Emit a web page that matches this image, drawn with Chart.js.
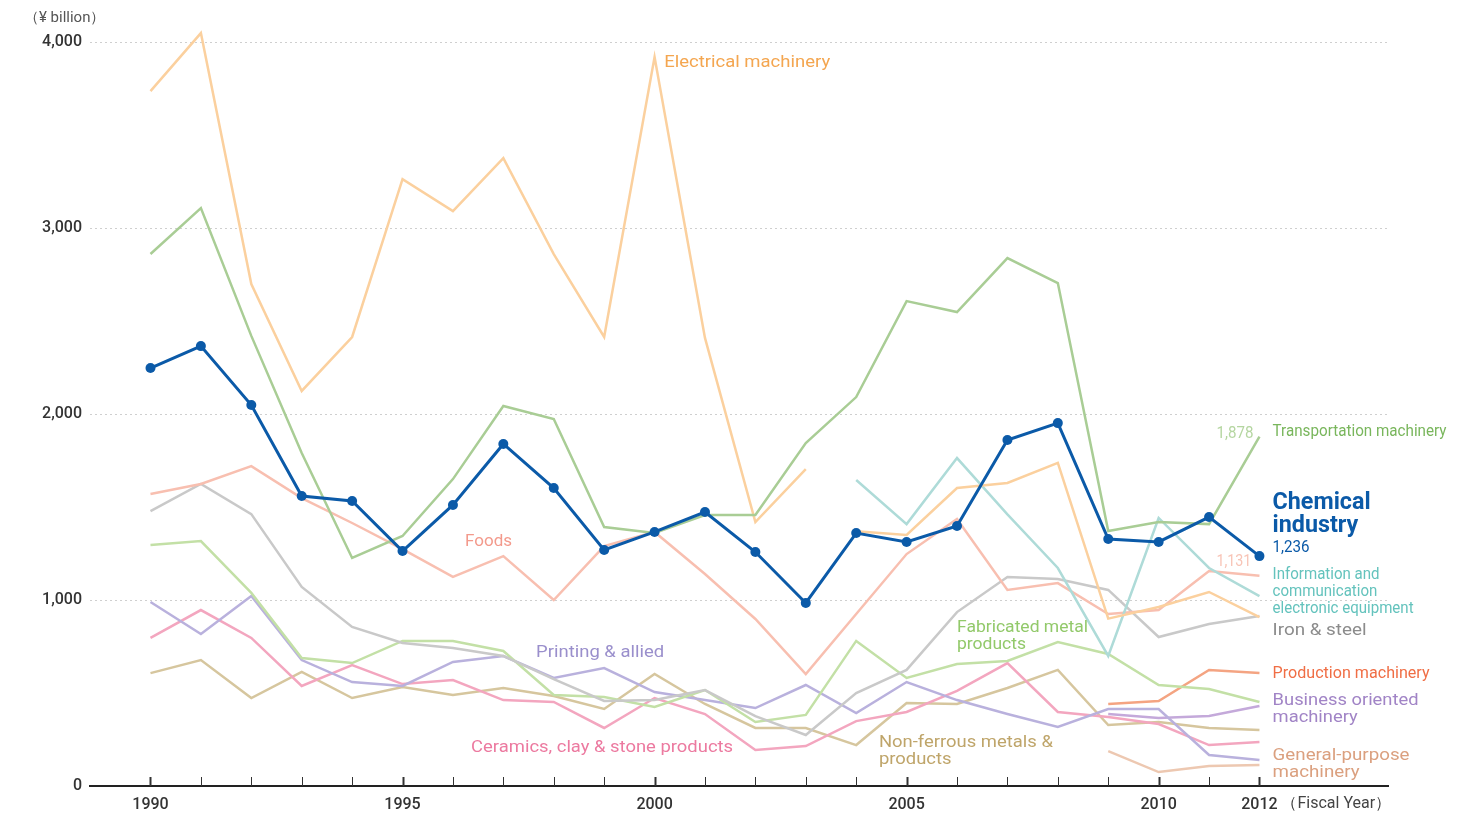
<!DOCTYPE html>
<html>
<head>
<meta charset="utf-8">
<script src="https://cdn.jsdelivr.net/npm/chart.js@4.4.1/dist/chart.umd.min.js"></script>
<style>
  html, body { margin: 0; padding: 0; background: #fff; }
  #wrap { width: 1465px; height: 814px; position: relative; }
</style>
</head>
<body>
<div id="wrap"><canvas id="capexChart"></canvas></div>
<script>
// fiscal years 1990 - 2012
const years = [1990, 1991, 1992, 1993, 1994, 1995, 1996, 1997, 1998, 1999, 2000, 2001,
  2002, 2003, 2004, 2005, 2006, 2007, 2008, 2009, 2010, 2011, 2012];
const tickYears = [1990, 1995, 2000, 2005, 2010, 2012];
const yTicks = [0, 1000, 2000, 3000, 4000];

// capital investment, ¥ billion
const chemical = [2247, 2365, 2048, 1559, 1532, 1263, 1511, 1839, 1602, 1269, 1366, 1473,
  1258, 984, 1360, 1312, 1398, 1860, 1951, 1328, 1312, 1446, 1236];
const transport = [2860, 3107, 2420, 1790, 1226, 1344, 1650, 2043, 1973, 1392, 1360, 1457,
  1457, 1844, 2091, 2607, 2548, 2838, 2704, 1371, 1419, 1408, 1878];
const electricalOld = [3736, 4048, 2699, 2124, 2414, 3263, 3091, 3376, 2860, 2414, 3919, 2409,
  1419, 1704, null, null, null, null, null, null, null, null, null];
const electricalNew = [null, null, null, null, null, null, null, null, null, null, null, null,
  null, null, 1370, 1350, 1602, 1629, 1737, 900, 962, 1043, 908];
const infoComm = [null, null, null, null, null, null, null, null, null, null, null, null,
  null, null, 1645, 1408, 1763, 1460, 1172, 699, 1441, 1172, 1021];
const foods = [1570, 1624, 1720, 1548, 1414, 1274, 1124, 1236, 1000, 1290, 1366, 1140,
  898, 602, 925, 1247, 1435, 1054, 1091, 925, 946, 1156, 1131];
const ironSteel = [1478, 1624, 1462, 1070, 855, 769, 742, 699, 575, 457, 462, 516,
  376, 274, 500, 624, 935, 1124, 1113, 1054, 801, 871, 914];
const fabricated = [1296, 1317, 1038, 688, 661, 780, 780, 726, 489, 478, 425, 516,
  344, 382, 780, 581, 656, 672, 774, 710, 543, 521, 452];
const printing = [989, 817, 1021, 677, 559, 538, 667, 699, 581, 634, 505, 462,
  419, 543, 392, 559, 462, 387, 317, 414, 414, 167, 140];
const business = [null, null, null, null, null, null, null, null, null, null, null, null,
  null, null, null, null, null, null, null, 387, 366, 376, 430];
const ceramics = [796, 946, 796, 538, 650, 548, 570, 462, 452, 312, 473, 387,
  194, 215, 349, 398, 511, 661, 398, 371, 333, 220, 237];
const nonFerrous = [607, 677, 473, 613, 473, 532, 489, 527, 484, 414, 602, 441,
  312, 312, 220, 446, 441, 527, 624, 328, 344, 312, 301];
const production = [null, null, null, null, null, null, null, null, null, null, null, null,
  null, null, null, null, null, null, null, 441, 457, 624, 607];
const generalPurpose = [null, null, null, null, null, null, null, null, null, null, null, null,
  null, null, null, null, null, null, null, 188, 75, 108, 113];

const toPoints = vals => years.map((yr, i) => ({ x: yr, y: vals[i] }));

function line(label, vals, color, width) {
  return {
    label: label,
    data: toPoints(vals),
    borderColor: color,
    borderWidth: width || 2.5,
    pointRadius: 0,
    fill: false,
    tension: 0,
    spanGaps: false,
    clip: false,
  };
}

const BLUE = '#0b5aa8';
const FONT = 'Roboto, "DejaVu Sans", sans-serif';

// text labels, anchored in data units (year, value)
const notes = [
  { lines: ['Electrical machinery'], year: 2000.19, value: 3887, color: '#f4a650', w: 166 },
  { lines: ['Foods'], year: 1996.24, value: 1312, color: '#f39a8c', w: 47 },
  { lines: ['Printing & allied'], year: 1997.65, value: 715, color: '#9a8fcc', w: 128 },
  { lines: ['Ceramics, clay & stone products'], year: 1996.36, value: 204, color: '#ec7aa0', w: 262 },
  { lines: ['Fabricated metal', 'products'], year: 2006.0, value: 849, color: '#92c96a', w: 131 },
  { lines: ['Non-ferrous metals &', 'products'], year: 2004.45, value: 231, color: '#bfa56a', w: 174 },
  { lines: ['Transportation machinery'], year: 2012.26, value: 1903, color: '#79b65c', w: 174 },
  { lines: ['1,878'], year: 2011.88, value: 1892, color: '#b5d6a1', w: 37, align: 'right' },
  { lines: ['Chemical', 'industry'], year: 2012.26, value: 1521, color: BLUE, w: 98, bold: true, size: 24, lh: 23 },
  { lines: ['1,236'], year: 2012.26, value: 1280, color: BLUE, w: 37 },
  { lines: ['1,131'], year: 2011.84, value: 1204, color: '#f8c4b6', w: 35, align: 'right' },
  { lines: ['Information and', 'communication', 'electronic equipment'], year: 2012.26, value: 1134, color: '#64c3bd', w: 107 },
  { lines: ['Iron & steel'], year: 2012.26, value: 833, color: '#8c8c8c', w: 94 },
  { lines: ['Production machinery'], year: 2012.26, value: 602, color: '#f06e45', w: 157 },
  { lines: ['Business oriented', 'machinery'], year: 2012.26, value: 457, color: '#a184c6', w: 146 },
  { lines: ['General-purpose', 'machinery'], year: 2012.26, value: 161, color: '#dba07f', w: 137 },
];

const annotate = {
  id: 'annotate',
  afterDatasetsDraw(chart) {
    const { ctx, scales: { x, y } } = chart;
    ctx.save();
    ctx.textBaseline = 'middle';
    notes.forEach(n => {
      const size = n.size || 17;
      ctx.font = (n.bold ? 'bold ' : '') + size + 'px ' + FONT;
      const squeeze = n.w / ctx.measureText(n.lines[0]).width;
      const px = x.getPixelForValue(n.year);
      const py = y.getPixelForValue(n.value);
      ctx.fillStyle = n.color;
      ctx.textAlign = n.align || 'left';
      n.lines.forEach((t, i) => {
        ctx.save();
        ctx.translate(px, py + i * (n.lh || 17));
        ctx.scale(squeeze, 1);
        ctx.fillText(t, 0, 0);
        ctx.restore();
      });
    });

    // unit captions
    ctx.fillStyle = '#555';
    ctx.textAlign = 'left';
    ctx.font = '15px ' + FONT;
    ctx.fillText('（¥ billion）', 24, 18);
    ctx.fillStyle = '#444';
    ctx.font = '16px ' + FONT;
    ctx.fillText('（Fiscal Year）', x.getPixelForValue(2012) + 22, 804);
    ctx.restore();
  }
};

// small year ticks sitting on top of the x axis
const yearTicks = {
  id: 'yearTicks',
  afterDraw(chart) {
    const { ctx, scales: { x }, chartArea } = chart;
    ctx.save();
    ctx.strokeStyle = '#333';
    years.forEach(yr => {
      const px = Math.round(x.getPixelForValue(yr)) + 0.5;
      ctx.lineWidth = tickYears.includes(yr) ? 2 : 1;
      ctx.beginPath();
      ctx.moveTo(px, chartArea.bottom);
      ctx.lineTo(px, chartArea.bottom - 9);
      ctx.stroke();
    });
    ctx.restore();
  }
};

const ctx = document.getElementById('capexChart').getContext('2d');
new Chart(ctx, {
  type: 'line',
  data: {
    datasets: [
      {
        label: 'Chemical industry',
        data: toPoints(chemical),
        borderColor: BLUE,
        backgroundColor: BLUE,
        borderWidth: 3,
        pointRadius: 5,
        pointBorderWidth: 0,
        pointBackgroundColor: BLUE,
        tension: 0,
      },
      line('Transportation machinery', transport, '#a9cd95'),
      line('Electrical machinery', electricalOld, '#fbd09e'),
      line('Electrical machinery (2004-)', electricalNew, '#fbd09e'),
      line('Information and communication electronic equipment', infoComm, '#aedbd8'),
      line('Foods', foods, '#f8bfb0'),
      line('Iron & steel', ironSteel, '#c9c9c9'),
      line('Fabricated metal products', fabricated, '#c3e0a6'),
      line('Printing & allied', printing, '#b9b1dd'),
      line('Business oriented machinery', business, '#c4a9da'),
      line('Ceramics, clay & stone products', ceramics, '#f3a6bf'),
      line('Non-ferrous metals & products', nonFerrous, '#d6c69e'),
      line('Production machinery', production, '#f4a482'),
      line('General-purpose machinery', generalPurpose, '#edc8b1'),
    ],
  },
  options: {
    responsive: true,
    maintainAspectRatio: false,
    animation: false,
    layout: {
      padding: { top: 42, right: 77, left: 0, bottom: 0 },
    },
    plugins: {
      legend: { display: false },
      tooltip: { enabled: false },
    },
    scales: {
      x: {
        type: 'linear',
        min: 1988.8,
        max: 2014.55,
        afterBuildTicks: s => { s.ticks = tickYears.map(v => ({ value: v })); },
        afterFit: s => { s.height = 28; },
        ticks: {
          callback: v => String(v),
          color: '#333',
          padding: 9,
          maxRotation: 0,
          font: { family: FONT, size: 16, weight: '500' },
        },
        grid: { display: false, drawTicks: false },
        border: { display: true, color: '#222', width: 2 },
      },
      y: {
        min: 0,
        max: 4000,
        afterBuildTicks: s => { s.ticks = yTicks.map(v => ({ value: v })); },
        afterFit: s => { s.width = 90; },
        ticks: {
          callback: v => v.toLocaleString('en-US'),
          color: '#333',
          padding: 8,
          font: { family: FONT, size: 16, weight: '500' },
        },
        grid: {
          drawTicks: false,
          lineWidth: 1,
          color: c => (c.tick && c.tick.value === 0 ? 'rgba(0,0,0,0)' : '#cfcfcf'),
        },
        border: { display: false, dash: [2, 3] },
      },
    },
  },
  plugins: [annotate, yearTicks],
});
</script>
</body>
</html>
